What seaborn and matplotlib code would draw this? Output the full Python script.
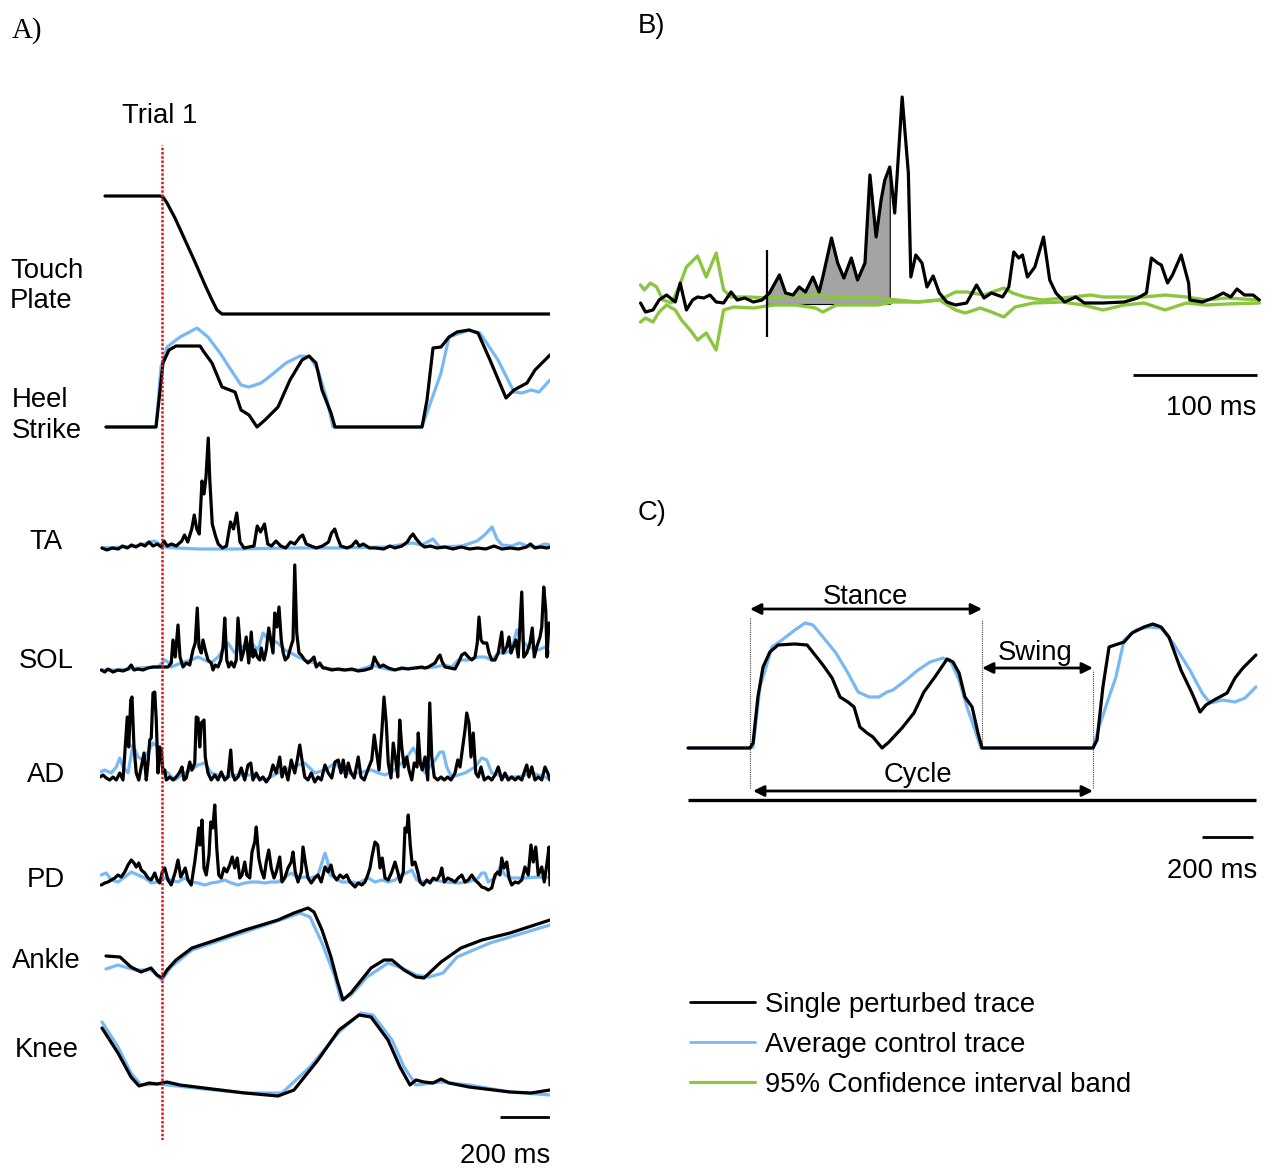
import numpy as np
import pandas as pd
import seaborn as sns
import matplotlib
matplotlib.use("Agg")
import matplotlib.pyplot as plt
from matplotlib.lines import Line2D

sns.set_theme(style="white")
plt.rcParams["font.family"] = ["Liberation Sans", "DejaVu Sans"]
plt.rcParams["text.color"] = "black"

# ---------------------------------------------------------------- data
# Panel A: time in ms relative to perturbation onset (Trial 1), amplitude in a.u.
touch_t = [-228, -8, 4, 20, 52, 92, 132, 172, 200, 220, 240, 1552]
touch_v = [118, 118, 117, 111, 96, 74, 52, 29, 14, 4, 0, 0]

heel_black_t = [-224, -24, -12, 4, 28, 56, 152, 168, 200, 240, 292, 316, 348, 380, 412, 464, 512, 560,
                588, 616, 640, 676, 692, 1040, 1060, 1084, 1116, 1148, 1180, 1228, 1264, 1312, 1376,
                1408, 1460, 1492, 1552]
heel_black_v = [0, 0, 27, 64, 77, 81, 81, 75, 64, 40, 35, 17, 12, 0, 7, 20, 47, 67, 71, 64, 37, 14, 0, 0,
                27, 79, 80, 90, 95, 97, 94, 67, 29, 37, 44, 57, 72]
heel_blue_t = [-224, -24, -4, 20, 72, 140, 184, 232, 284, 316, 348, 396, 428, 496, 552, 592, 624, 660,
               684, 1040, 1068, 1116, 1148, 1228, 1272, 1344, 1408, 1440, 1476, 1508, 1552]
heel_blue_v = [0, 0, 60, 80, 90, 99, 90, 74, 54, 42, 40, 44, 50, 64, 71, 70, 57, 27, 0, 0, 20, 54, 90,
               97, 94, 67, 35, 34, 37, 35, 47]

ta_black_t = [-240, -220, -199, -175, -158, -139, -122, -104, -85, -68, -52, -36, -19, -3, 8, 21, 38, 57,
              79, 90, 103, 119, 129, 139, 149, 160, 168, 176, 185, 191, 201, 214, 225, 242, 258, 274,
              286, 299, 312, 328, 348, 368, 381, 394, 410, 423, 438, 456, 475, 495, 514, 531, 552, 563,
              577, 596, 617, 642, 666, 678, 691, 701, 715, 740, 759, 776, 789, 805, 830, 854, 887, 911,
              932, 960, 981, 993, 1004, 1017, 1034, 1050, 1074, 1099, 1132, 1164, 1197, 1230, 1262,
              1295, 1328, 1360, 1393, 1426, 1458, 1474, 1491, 1515, 1540, 1552]
ta_black_v = [1, -1, 1, 0, 3, 1, 4, 2, 5, 3, 7, 3, 5, 2, 8, 3, 5, 3, 8, 14, 7, 20, 34, 20, 15, 68, 55, 72,
              111, 70, 25, 13, 5, 1, 3, 27, 20, 36, 7, 1, 2, 3, 23, 17, 25, 5, 3, 8, 3, 1, 7, 5, 12, 14,
              5, 3, 1, 3, 7, 16, 20, 12, 3, 1, 3, 8, 3, 5, 1, 1, 0, 3, 1, 3, 7, 12, 15, 10, 5, 2, 3, 1,
              2, 0, 2, 0, 1, 0, 3, 0, 1, 0, 2, 5, 1, 2, 1, 2]
ta_blue_t = [-240, -150, -100, -60, -30, -10, 10, 60, 150, 300, 500, 700, 900, 1000, 1040, 1084, 1110,
             1200, 1260, 1290, 1320, 1340, 1360, 1400, 1430, 1460, 1500, 1530, 1552]
ta_blue_v = [1, 2, 3, 6, 8, 5, 2, 1, 0, 0, 1, 1, 2, 6, 4, 10, 2, 3, 8, 14, 22, 10, 4, 3, 6, 3, 2, 5, 4]

sol_black_t = [-243, -229, -216, -196, -176, -156, -136, -123, -112, -96,
               -76, -56, -36, -16, 4, 24, 37, 44, 53, 64,
               72, 84, 97, 111, 124, 133, 141, 148, 157, 164,
               173, 184, 197, 204, 213, 224, 235, 244, 251, 259,
               267, 277, 288, 297, 304, 311, 317, 328, 337, 347,
               357, 364, 371, 381, 391, 397, 408, 417, 427, 435,
               444, 451, 460, 468, 477, 485, 493, 504, 515, 524,
               531, 539, 548, 557, 571, 584, 597, 608, 617, 631,
               644,
               652, 679, 705, 732, 759, 785, 812, 839, 849, 859,
               872, 885, 905, 932, 959, 985, 1012, 1039, 1052, 1065,
               1079, 1092, 1105, 1112, 1121, 1132, 1152, 1172, 1185, 1199,
               1212, 1225, 1239, 1252, 1261, 1268, 1276, 1285, 1299, 1308,
               1319, 1332, 1345, 1359, 1365, 1379, 1388, 1396, 1405, 1415,
               1425, 1439, 1447, 1459, 1472, 1481, 1489, 1499, 1512, 1519,
               1527, 1535, 1540, 1548, 1552]
sol_black_v = [0, -2, 1, -2, 0, -1, 1, 5, 0, 1,
               0, 2, 3, 3, 3, 3, 7, 30, 13, 45,
               13, 3, 7, 5, 20, 27, 62, 23, 17, 30,
               20, 10, 7, 0, 5, 3, 10, 23, 52, 10,
               3, 8, 3, 10, 52, 30, 10, 20, 33, 7,
               38, 13, 20, 13, 10, 22, 10, 20, 42, 30,
               17, 57, 43, 63, 30, 17, 10, 13, 23, 30,
               105, 37, 17, 15, 10, 7, 10, 13, 3, 7,
               2,
               2, 0, 1, 0, 1, -1, 0, 2, 13, 8,
               3, 5, 2, 0, 2, 1, 2, 3, 2, 3,
               5, 7, 13, 15, 8, 3, 2, 1, 7, 15,
               17, 13, 10, 13, 27, 53, 30, 27, 27, 17,
               10, 10, 17, 38, 17, 23, 33, 17, 23, 30,
               13, 78, 13, 17, 27, 42, 13, 23, 33, 43,
               83, 60, 13, 47, 38]
sol_blue_t = [-243, -176, -96, -16, 11, 24, 37, 77, 117, 144, 197, 224, 264, 291, 317, 357, 384, 404,
              417, 437, 464, 491, 517, 544, 571, 611,
              652, 719, 785, 825, 839, 865, 919, 999, 1052, 1092, 1132, 1159, 1185, 1225, 1265, 1292,
              1319, 1345, 1372, 1399, 1419, 1439, 1465, 1505, 1532, 1552]
sol_blue_v = [0, 0, 2, 3, 10, 8, 3, 7, 10, 13, 7, 13, 27, 17, 23, 27, 20, 37, 33, 30, 27, 20, 17, 13, 10,
              7,
              2, 0, 0, 3, 5, 3, 0, 2, 2, 3, 5, 3, 10, 10, 13, 13, 10, 17, 17, 20, 40, 30, 23, 20, 23, 17]

ad_black_t = [-248, -236, -223, -209, -196, -183, -169, -156, -147, -139,
              -133, -125, -120, -112, -103, -93, -83, -72, -63, -56,
              -49, -43, -36, -29, -23, -16, -9, -3, 4, 11,
              17, 31, 44, 57, 71, 80, 88, 97, 111, 120,
              131, 137, 144, 151, 157, 168, 173, 184, 197, 211,
              224, 237, 251, 264, 275, 281, 291, 304, 317, 331,
              344, 355, 364, 377, 391, 404, 417, 431, 444, 457,
              471, 480, 491, 504, 517, 531, 541, 551, 560, 571,
              584, 597, 611, 624, 637,
              652, 665, 679, 692, 705, 716, 725, 735, 745, 756,
              769, 785, 796, 809, 823, 839, 849, 859, 868, 879,
              888, 897, 905, 916, 925, 935, 943, 951, 959, 969,
              979, 988, 999, 1009, 1020, 1025, 1033, 1041, 1052, 1063,
              1071, 1079, 1089, 1103, 1116, 1129, 1143, 1156, 1172, 1183,
              1192, 1201, 1212, 1219, 1228, 1236, 1245, 1255, 1265, 1276,
              1289, 1305, 1319, 1332, 1345, 1359, 1372, 1385, 1399, 1412,
              1425, 1439, 1452, 1459, 1468, 1479, 1492, 1505, 1519, 1532,
              1543, 1552]
ad_black_v = [3, 5, 2, 0, 3, 0, 7, 0, 33, 63,
              33, 80, 83, 33, 7, 0, 13, 27, 0, 17,
              40, 42, 87, 88, 60, 7, 33, 30, 7, 10,
              0, 3, 0, 3, 8, 13, 0, 2, 18, 10,
              17, 63, 62, 33, 57, 60, 23, 7, 0, 5,
              0, 8, 0, 3, 30, 7, 0, 3, 12, 0,
              15, 17, 0, 7, 0, 3, -2, 3, 15, 7,
              23, 3, 13, 0, 20, 7, 20, 35, 20, 3,
              0, 7, -2, 3, 0,
              15, 7, 2, 18, 20, 7, 20, 3, 17, 7,
              2, 23, 3, 0, 10, 20, 45, 27, 10, 47,
              83, 57, 17, 2, 37, 20, 3, 60, 33, 13,
              23, 10, 0, 17, 13, 47, 17, 10, 23, 0,
              77, 23, 3, 0, 3, 0, 3, 0, 7, 20,
              13, 30, 50, 67, 57, 23, 47, 7, 3, 13,
              0, 3, 0, 5, 13, 0, 7, 0, 3, 0,
              3, 0, 10, 15, 3, 13, 0, 3, 0, 13,
              7, 0]
ad_blue_t = [-248, -229, -203, -183, -169, -156, -136, -116, -96, -76, -56, -36, -16, 4, 24, 51, 91, 117,
             144, 171, 197, 251, 304, 357, 411, 464, 491, 544, 571, 611,
             652, 692, 732, 785, 839, 865, 892, 919, 972, 1005, 1025, 1052, 1092, 1112, 1125, 1139, 1159,
             1212, 1252, 1279, 1299, 1319, 1372, 1425, 1479, 1532, 1552]
ad_blue_v = [8, 10, 7, 13, 22, 13, 7, 35, 23, 20, 28, 37, 33, 10, 7, 0, 7, 10, 15, 17, 7, 3, 5, 5, 0, 7,
             10, 15, 17, 7,
             10, 17, 7, 7, 10, 7, 5, 8, 20, 32, 23, 7, 20, 28, 28, 13, 3, 7, 13, 22, 20, 7, 3, 3, 7, 3, 0]

pd_black_t = [-243, -229, -216, -203, -189, -176, -163, -149, -136, -123,
              -112, -103, -93, -83, -69, -56, -43, -29, -19, -9,
              1, 11, 24, 37, 53, 64, 75, 85, 93, 104,
              117, 131, 141, 147, 152, 160, 168, 177, 188, 195,
              203, 211, 219, 227, 237, 248, 259, 271, 281, 291,
              301, 311, 320, 331, 339, 351, 360, 371, 377, 387,
              397, 408, 417, 427, 437, 448, 457, 471, 480, 491,
              504, 517, 524, 533, 544, 557, 564, 573, 584, 597,
              611, 624, 637,
              652, 665, 676, 685, 699, 712, 725, 739, 752, 772,
              785, 799, 812, 823, 832, 841, 852, 863, 872, 881,
              892, 905, 919, 932, 943, 953, 965, 972, 979, 985,
              993, 1001, 1012, 1023, 1032, 1045, 1059, 1072, 1085, 1099,
              1112, 1119, 1129, 1143, 1159, 1172, 1185, 1199, 1212, 1225,
              1239, 1252, 1265, 1279, 1292, 1305, 1319, 1332, 1343, 1352,
              1359, 1368, 1379, 1388, 1399, 1412, 1425, 1439, 1452, 1465,
              1476, 1485, 1495, 1505, 1519, 1529, 1539, 1548, 1552]
pd_black_v = [2, 4, 5, 7, 9, 12, 10, 15, 22, 27,
              24, 20, 24, 17, 14, 9, 7, 14, 7, 4,
              15, 19, 7, 2, 15, 27, 10, 15, 19, 7,
              2, 25, 45, 59, 42, 67, 19, 12, 32, 65,
              59, 82, 39, 12, 9, 19, 15, 22, 30, 19,
              29, 9, 12, 25, 12, 9, 35, 45, 60, 29,
              17, 9, 25, 37, 19, 9, 15, 30, 5, 9,
              19, 25, 35, 15, 5, 15, 40, 25, 9, 4,
              9, 12, 5,
              20, 15, 22, 12, 7, 12, 9, 12, 5, 0,
              4, 2, 5, 12, 19, 32, 45, 42, 19, 29,
              9, 7, 15, 25, 15, 5, 15, 59, 55, 72,
              42, 22, 25, 15, 5, 2, 7, 4, 9, 7,
              12, 19, 5, 9, 7, 5, 9, 12, 5, 7,
              12, 7, 4, 0, -1, -3, -1, 12, 15, 12,
              29, 19, 25, 9, 2, 5, 4, 7, 20, 12,
              42, 25, 40, 12, 20, 5, 22, 40, 2]
pd_blue_t = [-243, -223, -203, -176, -149, -123, -96, -69, -43, -16, 11, 37, 64, 91, 117, 144, 171, 197,
             224, 251, 277, 304, 331, 357, 384, 411, 437, 464, 491, 517, 544, 571, 597, 624,
             652, 663, 672, 692, 719, 759, 785, 825, 852, 879, 905, 932, 959, 985, 999, 1019, 1052,
             1092, 1132, 1185, 1225, 1265, 1279, 1292, 1305, 1332, 1352, 1372, 1399, 1452, 1505, 1532,
             1552]
pd_blue_v = [12, 14, 7, 5, 10, 15, 12, 9, 4, 5, 9, 7, 5, 9, 5, 4, 2, 4, 5, 7, 4, 2, 4, 5, 5, 4, 5, 5, 10,
             14, 9, 10, 9, 12,
             34, 25, 12, 9, 5, 5, 4, 9, 5, 7, 5, 7, 12, 15, 17, 7, 5, 7, 5, 4, 5, 9, 14, 14, 5, 9, 20,
             12, 9, 9, 10, 9, 10]

ankle_black_t = [-224, -168, -124, -84, -44, -20, 0, 20, 56, 120, 216, 332, 464, 528, 584, 608, 640, 676,
                 700, 724, 756, 788, 836, 888, 920, 968, 1016, 1048, 1116, 1196, 1280, 1392, 1552]
ankle_black_v = [49, 48, 38, 33, 37, 30, 27, 35, 45, 57, 65, 75, 85, 92, 97, 93, 75, 48, 25, 5, 12, 22,
                 37, 45, 45, 35, 28, 27, 43, 57, 65, 72, 85]
ankle_blue_t = [-224, -176, -108, -44, 0, 36, 120, 332, 496, 552, 592, 640, 692, 716, 756, 820, 904, 960,
                1016, 1068, 1124, 1180, 1312, 1552]
ankle_blue_v = [36, 40, 35, 35, 25, 38, 55, 73, 87, 92, 88, 62, 28, 5, 10, 28, 42, 37, 30, 28, 32, 48,
                62, 80]

knee_black_t = [-240, -176, -124, -92, -52, -20, 20, 72, 168, 332, 464, 528, 624, 708, 788, 836, 904, 952,
                992, 1016, 1048, 1084, 1116, 1148, 1228, 1392, 1476, 1552]
knee_black_v = [72, 47, 23, 14, 17, 16, 18, 15, 12, 7, 4, 10, 40, 70, 85, 83, 60, 33, 15, 20, 18, 17, 21,
                17, 13, 8, 7, 10]
knee_blue_t = [-240, -176, -124, -84, -12, 168, 332, 480, 592, 708, 796, 844, 920, 968, 1016, 1116, 1228,
               1392, 1552]
knee_blue_v = [78, 53, 27, 15, 16, 11, 7, 7, 33, 68, 87, 85, 60, 33, 15, 18, 15, 8, 5]

# Panel B: time in ms relative to response onset
b_black_t = [-102, -98, -92, -87, -81, -74, -70, -65, -60, -56, -51, -46, -41, -35, -29, -24, -18, -11,
             -4, 2, 10, 15, 21, 26, 31, 37, 42, 45, 52, 57, 62, 68, 73, 79, 83, 88, 92, 95, 99, 103, 109,
             114, 116, 120, 125, 129, 134, 139, 145, 152, 161, 169, 175, 181, 190, 195, 199, 203, 206,
             210, 216, 223, 228, 233, 240, 249, 256, 271, 288, 299, 306, 310, 315, 318, 323, 327, 334,
             340, 341, 351, 360, 368, 374, 379, 385, 392, 397]
b_black_v = [1, -8, -6, 4, 9, 2, 21, -6, 4, 7, 6, 9, 2, 1, 12, 4, 6, 2, 4, 11, 29, 11, 9, 17, 12, 27, 12,
             27, 66, 41, 26, 46, 24, 41, 129, 67, 104, 124, 137, 91, 207, 131, 27, 49, 41, 17, 28, 11, 2,
             -1, 1, 19, 6, 11, 7, 17, 52, 46, 49, 27, 37, 67, 24, 11, 2, 7, 1, 1, 2, 6, 11, 46, 41, 39,
             21, 29, 49, 21, 4, 2, 6, 11, 7, 15, 9, 9, 4]
b_ci_upper_t = [-102, -99, -94, -89, -84, -77, -71, -65, -56, -49, -41, -35, -29, -15, 2, 12, 23, 32, 40,
                49, 62, 75, 89, 105, 122, 139, 152, 161, 175, 191, 198, 208, 222, 238, 261, 271, 304,
                321, 338, 354, 371, 397]
b_ci_upper_v = [19, 14, 21, 17, 4, 1, 17, 37, 48, 27, 51, 14, 7, 7, 6, 7, 9, 7, 11, 6, 7, 7, 6, 4, 2, 4,
                12, 12, 9, 16, 11, 7, 4, 6, 9, 7, 7, 9, 7, 4, 6, 4]
b_ci_lower_t = [-102, -98, -92, -87, -81, -74, -69, -62, -56, -49, -41, -35, -27, -11, 6, 23, 39, 45, 56,
                72, 89, 102, 122, 139, 152, 160, 172, 181, 191, 200, 215, 238, 255, 271, 288, 304, 321,
                338, 354, 371, 397]
b_ci_lower_v = [-18, -14, -18, -8, -1, -6, -16, -26, -36, -29, -46, -6, -3, -4, -1, -1, -4, -8, -1, -1,
                -1, 2, 2, 4, -6, -9, -4, -8, -13, -3, 1, 2, -1, -6, -1, 1, -6, 1, -1, 0, 1]
b_response_end = 99   # ms, end of shaded response area

# Panel C: heel-strike trace, time in ms relative to heel strike
c_black_t = [-243, 0, 12, 31, 51, 78, 110, 176, 224, 255, 286, 322, 353, 384, 408, 431, 459, 482, 518,
             545, 596, 643, 682, 725, 773, 796, 820, 843, 871, 894, 910, 1345, 1361, 1384, 1408, 1443,
             1467, 1498, 1545, 1580, 1612, 1643, 1690, 1733, 1765, 1788, 1820, 1871, 1902, 1933, 1984]
c_black_v = [0, 0, 5, 51, 81, 96, 103, 104, 103, 93, 83, 70, 51, 46, 41, 21, 15, 11, 0, 6, 20, 35, 56,
             71, 89, 86, 75, 51, 41, 15, 0, 0, 8, 61, 101, 104, 106, 115, 121, 124, 121, 111, 78, 55,
             36, 43, 48, 55, 70, 80, 93]
c_blue_t = [-243, 0, 12, 39, 63, 86, 125, 176, 216, 247, 286, 337, 384, 424, 467, 506, 537, 561, 612,
            659, 706, 757, 788, 820, 851, 886, 906, 1345, 1369, 1400, 1435, 1467, 1514, 1565, 1612,
            1659, 1725, 1773, 1804, 1855, 1902, 1941, 1984]
c_blue_v = [0, 0, 1, 61, 81, 101, 108, 118, 125, 123, 111, 95, 75, 56, 51, 51, 56, 58, 68, 78, 86, 90,
            86, 68, 41, 15, 0, 0, 21, 45, 71, 108, 118, 121, 120, 105, 78, 55, 45, 48, 46, 50, 61]
c_stance_ms = [0, 910]
c_swing_ms = [910, 1345]
c_cycle_ms = [12, 1345]

legend_labels = ["Single perturbed trace", "Average control trace", "95% Confidence interval band"]

# ---------------------------------------------------------------- styles / layout
BLACK = "#000000"
BLUE = "#78b9f5"
GREEN = "#8cc63f"
RED = "#e3141b"
FS = 19.8
LW = 2.3
W, H = 1272, 1168

fig = plt.figure(figsize=(W / 100, H / 100), dpi=100)
fig.patch.set_facecolor("white")


def px_axes(x0, x1, y0, y1):
    ax = fig.add_axes([x0 / W, 1 - y1 / H, (x1 - x0) / W, (y1 - y0) / H])
    ax.set_axis_off()
    ax.patch.set_alpha(0)
    return ax


def trace(ax, t, v, color, lw=LW, z=2):
    sns.lineplot(x=t, y=v, ax=ax, color=color, linewidth=lw, estimator=None,
                 sort=False, legend=False, zorder=z,
                 solid_joinstyle="round", solid_capstyle="round")


def ftext(x, y, s, **kw):
    kw.setdefault("fontsize", FS)
    fig.text(x / W, 1 - y / H, s, **kw)


# ---------------------------------------------------------------- panel A
A_X0, A_X1 = 99.5, 550
A_XLIM = (-250, 1552)          # 4 ms per pixel
rows = [
    (314, touch_t, touch_v, None, None, 0),
    (427, heel_black_t, heel_black_v, heel_blue_t, heel_blue_v, 0),
    (549, ta_black_t, ta_black_v, ta_blue_t, ta_blue_v, 0),
    (670, sol_black_t, sol_black_v, sol_blue_t, sol_blue_v, 0),
    (780, ad_black_t, ad_black_v, ad_blue_t, ad_blue_v, 0),
    (887, pd_black_t, pd_black_v, pd_blue_t, pd_blue_v, 0),
    (1005, ankle_black_t, ankle_black_v, ankle_blue_t, ankle_blue_v, 0),
    (1100, knee_black_t, knee_black_v, knee_blue_t, knee_blue_v, 50),
]
knee_ax = None
for base, bt, bv, ct, cv, extra in rows:
    ax = px_axes(A_X0, A_X1, base - 135, base + 15 + extra)
    if ct is not None:
        trace(ax, ct, cv, BLUE, LW, 2)
    trace(ax, bt, bv, BLACK, LW, 3)
    ax.set_xlim(*A_XLIM)
    ax.set_ylim(-15 - extra, 135)
    knee_ax = ax

# scale bar 200 ms
knee_ax.hlines(-17, A_XLIM[1] - 200, A_XLIM[1], color=BLACK, lw=2.0)
knee_ax.text(A_XLIM[1], -63, "200 ms", ha="right", va="baseline", fontsize=FS)

# perturbation marker
ax_red = px_axes(A_X0, A_X1, 145, 1140)
ax_red.axvline(0, color=RED, lw=1.8, ls=(0, (1, 0.7)))
ax_red.set_xlim(*A_XLIM)
ax_red.set_ylim(0, 1)

ftext(12, 38, "A)", family=["Liberation Serif", "DejaVu Serif"], fontsize=FS + 1)
ftext(160, 123, "Trial 1", ha="center", va="baseline")
ftext(10, 278, "Touch", va="baseline")
ftext(10, 308, "Plate", va="baseline")
ftext(12, 407, "Heel", va="baseline")
ftext(12, 438, "Strike", va="baseline")
ftext(46, 549, "TA", ha="center", va="baseline")
ftext(46, 668, "SOL", ha="center", va="baseline")
ftext(46, 782, "AD", ha="center", va="baseline")
ftext(46, 887, "PD", ha="center", va="baseline")
ftext(12, 968, "Ankle", va="baseline")
ftext(15, 1057, "Knee", va="baseline")

# ---------------------------------------------------------------- panel B
B_ONSET, B_PXMS, B_BASE = 767, 1.24, 304
ax_b = px_axes(630, 1262, 60, 430)
trace(ax_b, b_ci_upper_t, b_ci_upper_v, GREEN, 2.4, 2)
trace(ax_b, b_ci_lower_t, b_ci_lower_v, GREEN, 2.4, 2)
trace(ax_b, b_black_t, b_black_v, BLACK, LW, 3)
grid = np.linspace(0, b_response_end, 300)
fill_v = np.interp(grid, b_black_t, b_black_v)
ax_b.fill_between(grid, 0, fill_v, facecolor="#a3a3a3", edgecolor=BLACK, lw=0.8, zorder=1)
ax_b.vlines(0, -33, 54, color=BLACK, lw=1.6, zorder=4)
ax_b.hlines(-71, 395 - 100, 395, color=BLACK, lw=2.0)
ax_b.text(395, -111, "100 ms", ha="right", va="baseline", fontsize=FS)
ax_b.set_xlim((630 - B_ONSET) / B_PXMS, (1262 - B_ONSET) / B_PXMS)
ax_b.set_ylim(B_BASE - 430, B_BASE - 60)
ftext(638, 33, "B)", va="baseline")

# ---------------------------------------------------------------- panel C
C_ONSET, C_PXMS, C_BASE = 750, 0.255, 748
ax_c = px_axes(680, 1262, 560, 900)
trace(ax_c, c_blue_t, c_blue_v, BLUE, LW, 2)
trace(ax_c, c_black_t, c_black_v, BLACK, LW, 3)
ax_c.hlines(-52, -243, 1984, color=BLACK, lw=2.4)
for x, lo, hi in [(0, -40, 130), (910, 0, 128), (1345, -40, 78)]:
    ax_c.vlines(x, lo, hi, color="#444444", lw=0.8, ls=(0, (1, 1)))
arrow = dict(arrowstyle="<|-|>", color=BLACK, lw=2.0, mutation_scale=16, shrinkA=0, shrinkB=0)
ax_c.annotate("", xy=(c_stance_ms[1], 139), xytext=(c_stance_ms[0], 139), arrowprops=arrow)
ax_c.annotate("", xy=(c_swing_ms[1], 80), xytext=(c_swing_ms[0], 80), arrowprops=arrow)
ax_c.annotate("", xy=(c_cycle_ms[1], -43), xytext=(c_cycle_ms[0], -43), arrowprops=arrow)
ax_c.text(451, 144, "Stance", ha="center", va="baseline", fontsize=FS)
ax_c.text(1118, 88, "Swing", ha="center", va="baseline", fontsize=FS)
ax_c.text(659, -34, "Cycle", ha="center", va="baseline", fontsize=FS)
ax_c.hlines(-89, 1773, 1973, color=BLACK, lw=2.0)
ax_c.text(1988, -130, "200 ms", ha="right", va="baseline", fontsize=FS)
ax_c.set_xlim((680 - C_ONSET) / C_PXMS, (1262 - C_ONSET) / C_PXMS)
ax_c.set_ylim(C_BASE - 900, C_BASE - 560)
ftext(638, 520, "C)", va="baseline")

# ---------------------------------------------------------------- legend
handles = [Line2D([], [], color=BLACK, lw=2.0),
           Line2D([], [], color=BLUE, lw=2.0),
           Line2D([], [], color=GREEN, lw=2.3)]
fig.legend(handles, legend_labels, loc="upper left", bbox_to_anchor=(690 / W, 1 - 992 / H),
           frameon=False, fontsize=FS, handlelength=2.36, handletextpad=0.36,
           labelspacing=0.5, borderpad=0, borderaxespad=0)

fig.savefig("out.png", dpi=100, facecolor="white")
